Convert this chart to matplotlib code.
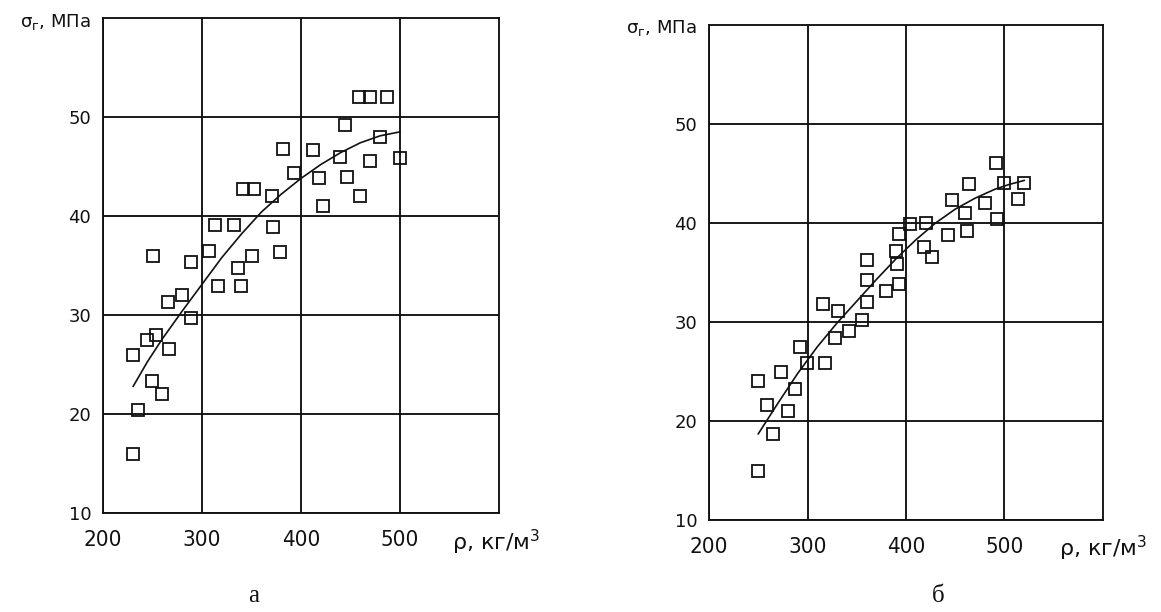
import matplotlib
matplotlib.use("Agg")
import matplotlib.pyplot as plt

# ---- data: panel "а" ----
a_x = [230, 235, 230, 244, 249, 254, 260, 267, 266, 280, 289, 289, 250, 307,
       313, 316, 332, 336, 339.5, 341, 350, 353, 371, 372, 379, 382, 393,
       412.5, 418, 422.6, 439.5, 444.3, 446.3, 459.5, 459, 470, 487, 470,
       480, 499.7]
a_y = [16.0, 20.4, 26.0, 27.5, 23.3, 28.0, 22.0, 26.6, 31.35, 32.0, 29.7,
       35.4, 36.0, 36.5, 39.1, 32.9, 39.1, 34.7, 32.9, 42.7, 36.0, 42.75,
       42.0, 38.85, 36.4, 46.8, 44.3, 46.7, 43.85, 41.05, 46.0, 49.2, 43.9,
       42.0, 52.0, 52.0, 52.0, 45.6, 48.0, 45.9]
a_curve_x = [230.5, 245, 260, 280, 300, 320, 340, 360, 380, 400, 420, 440,
             460, 480, 500]
a_curve_y = [22.8, 25.3, 27.6, 30.4, 33.1, 35.8, 38.2, 40.4, 42.2, 43.8,
             45.2, 46.4, 47.4, 48.1, 48.5]

# ---- data: panel "б" ----
b_x = [249.4, 249.8, 259.2, 264.5, 273.6, 280, 287.5, 292.5, 299.2, 317.7,
       316, 330.5, 327.5, 342.3, 355, 360.5, 360.9, 360.9, 379.9, 390,
       390.7, 393.4, 392.7, 404.2, 420.5, 417.8, 425.9, 443.1, 447.2, 459.7,
       461.8, 464.1, 480, 491.2, 492.2, 499.7, 513.2, 520]
b_y = [15.0, 24.0, 21.6, 18.7, 25.0, 21.0, 23.2, 27.5, 25.9, 25.9, 31.8,
       31.1, 28.4, 29.1, 30.2, 32.0, 34.26, 36.3, 33.1, 37.2, 35.9, 33.85,
       38.9, 39.86, 40.0, 37.6, 36.6, 38.8, 42.36, 41.05, 39.2, 43.9, 42.06,
       46.08, 40.37, 44.05, 42.4, 44.05]
b_curve_x = [250, 270, 290, 310, 330, 350, 370, 390, 410, 430, 450, 470,
             490, 505, 520]
b_curve_y = [18.7, 21.8, 24.8, 27.5, 29.9, 32.1, 34.3, 36.4, 38.3, 40.0,
             41.4, 42.5, 43.4, 43.9, 44.3]

x_ticks = [200, 300, 400, 500]
y_ticks = [10, 20, 30, 40, 50]
x_label = r"ρ, кг/м$^{\mathregular{3}}$"
y_label = r"$\mathregular{σ_{г}}$, МПа"
captions = ["а", "б"]

W, H = 1161, 612
plt.rcParams['mathtext.fontset'] = 'dejavusans'
fig = plt.figure(figsize=(W / 100, H / 100), dpi=100)

FAM = ["DejaVu Sans"]
INK = "#111111"

def px(x0, y0, x1, y1):
    return [x0 / W, 1 - y1 / H, (x1 - x0) / W, (y1 - y0) / H]

panels = [
    dict(rect=px(103, 18, 499, 513), x=a_x, y=a_y, cx=a_curve_x, cy=a_curve_y,
         ylab=(91, 21.5), xlab=(452, 542), cap=(254, 596)),
    dict(rect=px(709, 25, 1103, 520), x=b_x, y=b_y, cx=b_curve_x, cy=b_curve_y,
         ylab=(697, 28.5), xlab=(1059, 548), cap=(938, 596)),
]

for i, p in enumerate(panels):
    ax = fig.add_axes(p["rect"])
    ax.set_xlim(200, 600)
    ax.set_ylim(10, 60)
    ax.set_xticks(x_ticks)
    ax.set_yticks(y_ticks)
    ax.grid(True, color=INK, lw=1.35)
    ax.set_axisbelow(True)
    for s in ax.spines.values():
        s.set_color(INK)
        s.set_linewidth(1.35)
    ax.tick_params(axis="y", length=0, pad=8.5, colors=INK)
    ax.tick_params(axis="x", length=0, pad=12.5, colors=INK)
    for lab in ax.get_yticklabels():
        lab.set_fontfamily(FAM)
        lab.set_fontsize(13)
    for lab in ax.get_xticklabels():
        lab.set_fontfamily(FAM)
        lab.set_fontsize(16)
        lab.set_fontstretch("condensed")
    ax.plot(p["cx"], p["cy"], color=INK, lw=1.2, zorder=3)
    ax.plot(p["x"], p["y"], ls="none", marker="s", ms=8.4, mew=1.3,
            mec=INK, mfc="none", zorder=4)
    fig.text(p["ylab"][0] / W, 1 - p["ylab"][1] / H, y_label, ha="right",
             va="center", fontsize=13, family=FAM, color=INK)
    fig.text(p["xlab"][0] / W, 1 - p["xlab"][1] / H, x_label, ha="left",
             va="center", fontsize=16, family=FAM, color=INK)
    fig.text(p["cap"][0] / W, 1 - p["cap"][1] / H, captions[i], ha="center",
             va="center", fontsize=18, family=["Liberation Serif"],
             color=INK)

fig.savefig("out.png", dpi=100, facecolor="white")
